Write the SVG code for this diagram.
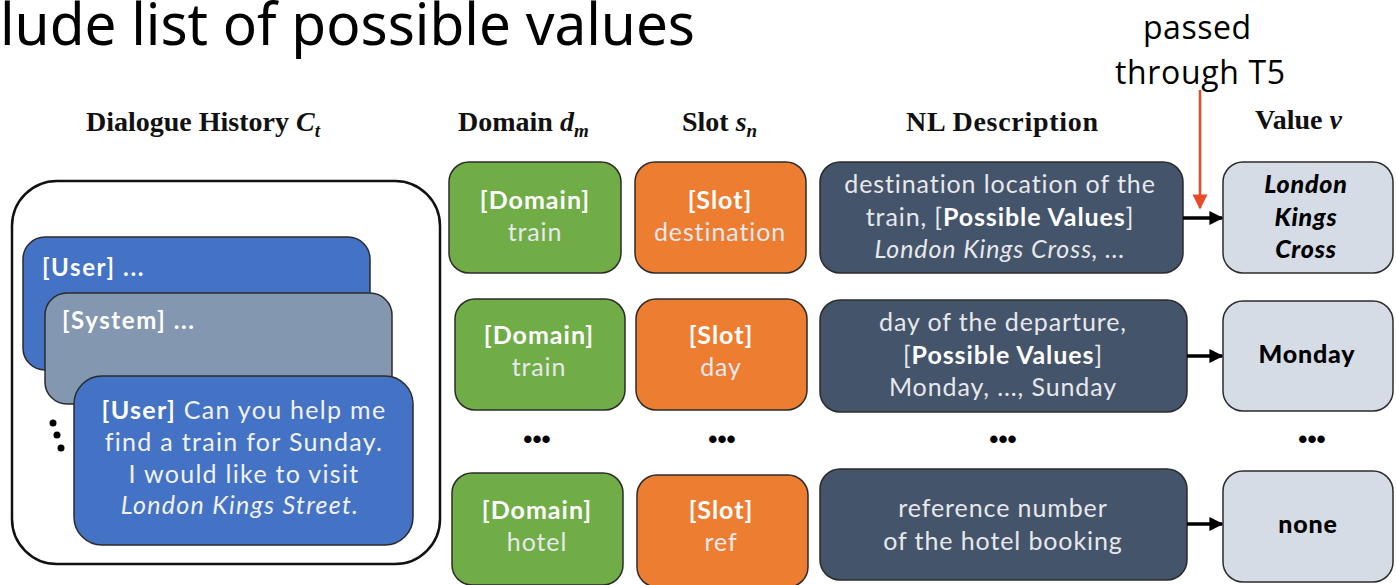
<svg xmlns="http://www.w3.org/2000/svg" width="1396" height="585" viewBox="0 0 1396 585">
<defs>
<marker id="ah" viewBox="0 0 10 10" refX="9" refY="5" markerWidth="4" markerHeight="4" orient="auto" markerUnits="strokeWidth"><path d="M0,0 L10,5 L0,10 z" fill="#000"/></marker>
<marker id="ahr" viewBox="0 0 10 10" refX="9" refY="5" markerWidth="7" markerHeight="6" orient="auto" markerUnits="strokeWidth"><path d="M0,0 L10,5 L0,10 z" fill="#e8492a"/></marker>
</defs>
<style>
.hdr{font-family:"Liberation Serif",serif;font-weight:bold;font-size:28px;fill:#111}
.m{font-style:italic}
.bx{stroke:#2b2b2b;stroke-width:1.5}
.dom{fill:#70ad47}
.slot{fill:#ed7d31}
.nl{fill:#44546a}
.val{fill:#d6dce5}
.wt{font-family:Lato,"Noto Sans",sans-serif;font-size:25px;fill:#fff;text-anchor:middle;letter-spacing:1px}
.wt2{font-family:Lato,"Noto Sans",sans-serif;font-size:25px;fill:#e8e8ec;text-anchor:middle;letter-spacing:0.9px}
.dl{font-family:Lato,"Noto Sans",sans-serif;font-size:25px;fill:#f2f2f6;text-anchor:middle;letter-spacing:1.3px}
.b{font-weight:bold}
.vt{font-family:Lato,"Noto Sans",sans-serif;font-size:25px;font-weight:900;fill:#000;text-anchor:middle;letter-spacing:0.8px}
.dots{font-family:"Liberation Sans",sans-serif;font-size:26px;font-weight:bold;fill:#000;text-anchor:middle}
.conn{stroke:#000;stroke-width:3.5;fill:none}
</style>
<text x="0" y="45" font-family="'Source Sans Pro','Noto Sans',sans-serif" font-size="58" fill="#000" textLength="695" lengthAdjust="spacingAndGlyphs">lude list of possible values</text>
<text x="1197" y="39" font-family="'Open Sans','Noto Sans',sans-serif" font-size="32" fill="#000" text-anchor="middle" textLength="108">passed</text>
<text x="1200" y="84" font-family="'Open Sans','Noto Sans',sans-serif" font-size="32" fill="#000" text-anchor="middle" textLength="170">through T5</text>

<g id="headers">
<text class="hdr" x="86" y="131">Dialogue History <tspan class="m">C</tspan><tspan class="m" font-size="19" dy="6">t</tspan></text>
<text class="hdr" x="458" y="131">Domain <tspan class="m">d</tspan><tspan class="m" font-size="19" dy="6">m</tspan></text>
<text class="hdr" x="682" y="131">Slot <tspan class="m">s</tspan><tspan class="m" font-size="19" dy="6">n</tspan></text>
<text class="hdr" x="906" y="131" textLength="192">NL Description</text>
<text class="hdr" x="1255" y="129">Value <tspan class="m">v</tspan></text>
</g>

<g id="dialogue">
<rect x="12" y="181" width="428" height="383" rx="45" fill="#fff" stroke="#111" stroke-width="2.5"/>
<rect class="bx" x="23" y="237" width="347" height="133" rx="22" fill="#4472c4"/>
<text x="42" y="276" font-family="Lato,'Noto Sans',sans-serif" font-size="24" font-weight="bold" fill="#fff" letter-spacing="1.6">[User] ...</text>
<rect class="bx" x="45" y="293" width="347" height="111" rx="22" fill="#8497b0"/>
<text x="62" y="329" font-family="Lato,'Noto Sans',sans-serif" font-size="24" font-weight="bold" fill="#fff" letter-spacing="1.6">[System] ...</text>
<rect class="bx" x="74" y="376" width="339" height="169" rx="28" fill="#4472c4"/>
<text class="dl" x="244" y="419"><tspan class="b" fill="#fff">[User]</tspan> Can you help me</text>
<text class="dl" x="244" y="451">find a train for Sunday.</text>
<text class="dl" x="244" y="483">I would like to visit</text>
<text class="dl" x="240" y="514" font-style="italic">London Kings Street.</text>
<circle cx="53" cy="423" r="3.5" fill="#000"/>
<circle cx="57" cy="435" r="3.5" fill="#000"/>
<circle cx="61" cy="448" r="3.5" fill="#000"/>
</g>

<g id="row1">
<rect class="bx dom" x="449" y="162" width="172" height="111" rx="20"/>
<text class="wt b" x="535" y="209">[Domain]</text>
<text class="wt2" x="535" y="241">train</text>
<rect class="bx slot" x="635" y="162" width="171" height="111" rx="20"/>
<text class="wt b" x="720" y="209">[Slot]</text>
<text class="wt2" x="720" y="241">destination</text>
<rect class="bx nl" x="820" y="162" width="363" height="111" rx="20"/>
<text class="wt2" x="1000" y="193">destination location of the</text>
<text class="wt2" x="1000" y="226">train, [<tspan class="b" fill="#fff">Possible Values</tspan>]</text>
<text class="wt2" x="1000" y="258" font-style="italic">London Kings Cross, ...</text>
<rect class="bx val" x="1223" y="162" width="170" height="111" rx="20"/>
<text class="vt" x="1306" y="193" font-style="italic">London</text>
<text class="vt" x="1306" y="226" font-style="italic">Kings</text>
<text class="vt" x="1306" y="258" font-style="italic">Cross</text>
</g>

<g id="row2">
<rect class="bx dom" x="455" y="299" width="170" height="111" rx="20"/>
<text class="wt b" x="539" y="344">[Domain]</text>
<text class="wt2" x="539" y="376">train</text>
<rect class="bx slot" x="636" y="299" width="171" height="111" rx="20"/>
<text class="wt b" x="721" y="344">[Slot]</text>
<text class="wt2" x="721" y="376">day</text>
<rect class="bx nl" x="820" y="300" width="367" height="112" rx="20"/>
<text class="wt2" x="1003" y="331">day of the departure,</text>
<text class="wt2" x="1003" y="364">[<tspan class="b" fill="#fff">Possible Values</tspan>]</text>
<text class="wt2" x="1003" y="396">Monday, ..., Sunday</text>
<rect class="bx val" x="1223" y="301" width="170" height="110" rx="20"/>
<text class="vt" x="1307" y="363">Monday</text>
</g>

<g id="ellipsis">
<text class="dots" x="537" y="448">•••</text>
<text class="dots" x="722" y="448">•••</text>
<text class="dots" x="1003" y="448">•••</text>
<text class="dots" x="1312" y="448">•••</text>
</g>

<g id="row3">
<rect class="bx dom" x="452" y="473" width="171" height="112" rx="20"/>
<text class="wt b" x="537" y="519">[Domain]</text>
<text class="wt2" x="537" y="551">hotel</text>
<rect class="bx slot" x="637" y="475" width="171" height="112" rx="20"/>
<text class="wt b" x="721" y="519">[Slot]</text>
<text class="wt2" x="721" y="551">ref</text>
<rect class="bx nl" x="820" y="469" width="367" height="111" rx="20"/>
<text class="wt2" x="1003" y="517">reference  number</text>
<text class="wt2" x="1003" y="550">of the hotel booking</text>
<rect class="bx val" x="1223" y="471" width="170" height="111" rx="20"/>
<text class="vt" x="1308" y="533">none</text>
</g>

<g id="connectors">
<line class="conn" x1="1183" y1="218" x2="1222" y2="218" marker-end="url(#ah)"/>
<line class="conn" x1="1187" y1="356" x2="1222" y2="356" marker-end="url(#ah)"/>
<line class="conn" x1="1187" y1="524" x2="1222" y2="524" marker-end="url(#ah)"/>
<line x1="1200" y1="90" x2="1200" y2="208" stroke="#e8492a" stroke-width="2.5" marker-end="url(#ahr)"/>
</g>
</svg>
